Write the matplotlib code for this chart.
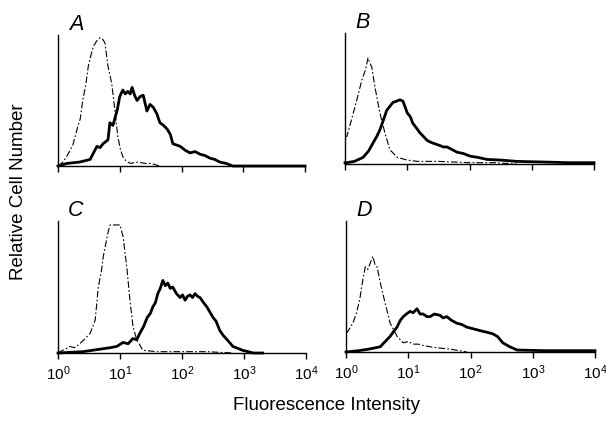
import numpy as np
import matplotlib.pyplot as plt

# Histogram outlines: x in decades (log10 intensity),
# y as fraction of panel height. "neg" = dashed control, "pos" = solid stain.
A_neg_dec = [0.00, 0.08, 0.15, 0.24, 0.32, 0.36, 0.40, 0.45, 0.49, 0.53, 0.57, 0.62,
             0.68, 0.72, 0.76, 0.81, 0.87, 0.92, 0.97, 1.01, 1.05, 1.10, 1.17, 1.30,
             1.40, 1.50, 1.65]
A_neg_y = [0.00, 0.03, 0.08, 0.16, 0.30, 0.36, 0.50, 0.62, 0.76, 0.84, 0.91, 0.95,
           0.98, 0.97, 0.94, 0.76, 0.63, 0.43, 0.22, 0.13, 0.07, 0.04, 0.02, 0.03,
           0.02, 0.02, 0.00]
A_pos_dec = [0.00, 0.15, 0.35, 0.52, 0.63, 0.68, 0.73, 0.81, 0.84, 0.89, 0.96, 1.00,
             1.05, 1.09, 1.13, 1.17, 1.20, 1.24, 1.28, 1.33, 1.38, 1.44, 1.49, 1.54,
             1.60, 1.65, 1.71, 1.77, 1.82, 1.86, 1.92, 1.98, 2.06, 2.14, 2.22, 2.30,
             2.38, 2.46, 2.54, 2.62, 2.72, 2.83, 4.00]
A_pos_y = [0.00, 0.02, 0.03, 0.05, 0.15, 0.14, 0.17, 0.20, 0.33, 0.31, 0.43, 0.53,
           0.58, 0.55, 0.57, 0.55, 0.60, 0.54, 0.50, 0.53, 0.54, 0.42, 0.47, 0.45,
           0.40, 0.33, 0.31, 0.28, 0.24, 0.17, 0.16, 0.15, 0.12, 0.10, 0.11, 0.09,
           0.08, 0.06, 0.05, 0.03, 0.02, 0.00, 0.00]

B_neg_dec = [0.00, 0.03, 0.10, 0.19, 0.27, 0.33, 0.37, 0.40, 0.43, 0.48, 0.56, 0.64,
             0.72, 0.84, 1.00, 1.16, 1.50, 2.00, 2.40, 2.76]
B_neg_y = [0.21, 0.21, 0.33, 0.49, 0.64, 0.72, 0.81, 0.77, 0.74, 0.59, 0.39, 0.24,
           0.11, 0.05, 0.03, 0.02, 0.02, 0.01, 0.01, 0.00]
B_pos_dec = [0.00, 0.03, 0.15, 0.29, 0.38, 0.45, 0.51, 0.56, 0.62, 0.67, 0.72, 0.77,
             0.83, 0.88, 0.93, 0.97, 1.00, 1.05, 1.09, 1.14, 1.20, 1.26, 1.32, 1.36,
             1.41, 1.47, 1.53, 1.58, 1.64, 1.72, 1.80, 1.90, 2.01, 2.14, 2.28, 2.50,
             2.76, 3.20, 3.60, 4.00]
B_pos_y = [0.01, 0.01, 0.02, 0.05, 0.10, 0.16, 0.21, 0.26, 0.34, 0.41, 0.44, 0.47,
           0.48, 0.49, 0.48, 0.43, 0.39, 0.36, 0.31, 0.28, 0.24, 0.21, 0.18, 0.17,
           0.16, 0.15, 0.14, 0.13, 0.13, 0.11, 0.09, 0.08, 0.06, 0.05, 0.035, 0.03,
           0.02, 0.015, 0.01, 0.01]

C_neg_dec = [0.00, 0.03, 0.12, 0.19, 0.27, 0.35, 0.44, 0.52, 0.60, 0.65, 0.70, 0.73,
             0.78, 0.81, 0.84, 0.92, 1.00, 1.05, 1.11, 1.16, 1.21, 1.27, 1.37, 1.60,
             2.00, 2.40, 2.82]
C_neg_y = [0.00, 0.01, 0.03, 0.05, 0.04, 0.07, 0.11, 0.15, 0.25, 0.50, 0.62, 0.73,
           0.85, 0.92, 0.97, 0.97, 0.97, 0.88, 0.65, 0.40, 0.20, 0.10, 0.02, 0.01,
           0.01, 0.01, 0.00]
C_pos_dec = [0.00, 0.40, 0.84, 0.95, 1.05, 1.13, 1.21, 1.27, 1.32, 1.38, 1.44, 1.49,
             1.53, 1.57, 1.61, 1.65, 1.69, 1.73, 1.77, 1.81, 1.85, 1.91, 1.97, 2.01,
             2.05, 2.09, 2.13, 2.17, 2.21, 2.25, 2.29, 2.35, 2.40, 2.45, 2.50, 2.55,
             2.61, 2.67, 2.73, 2.82, 2.98, 3.15, 3.30]
C_pos_y = [0.00, 0.01, 0.04, 0.05, 0.08, 0.07, 0.11, 0.10, 0.15, 0.20, 0.27, 0.30,
           0.35, 0.38, 0.45, 0.49, 0.55, 0.51, 0.53, 0.49, 0.50, 0.45, 0.42, 0.44,
           0.40, 0.43, 0.44, 0.42, 0.45, 0.43, 0.42, 0.38, 0.35, 0.31, 0.27, 0.24,
           0.17, 0.13, 0.10, 0.05, 0.02, 0.00, 0.00]

D_neg_dec = [0.00, 0.02, 0.11, 0.17, 0.22, 0.27, 0.31, 0.35, 0.39, 0.43, 0.47, 0.50,
             0.55, 0.63, 0.71, 0.82, 0.92, 1.00, 1.08, 1.16, 1.24, 1.35, 1.51, 1.70,
             1.94]
D_neg_y = [0.15, 0.15, 0.22, 0.30, 0.40, 0.55, 0.65, 0.63, 0.68, 0.73, 0.66, 0.65,
           0.53, 0.37, 0.22, 0.12, 0.07, 0.08, 0.06, 0.06, 0.05, 0.04, 0.03, 0.02,
           0.00]
D_pos_dec = [0.00, 0.20, 0.34, 0.45, 0.55, 0.63, 0.71, 0.77, 0.82, 0.87, 0.92, 0.97,
             1.03, 1.08, 1.14, 1.19, 1.24, 1.30, 1.35, 1.42, 1.51, 1.56, 1.62, 1.70,
             1.78, 1.86, 1.94, 2.02, 2.10, 2.18, 2.27, 2.35, 2.43, 2.52, 2.63, 2.75,
             3.20, 3.60, 4.00]
D_pos_y = [0.00, 0.01, 0.02, 0.03, 0.04, 0.08, 0.12, 0.16, 0.19, 0.24, 0.27, 0.29,
           0.31, 0.30, 0.33, 0.29, 0.29, 0.27, 0.27, 0.29, 0.28, 0.26, 0.27, 0.24,
           0.22, 0.21, 0.19, 0.18, 0.17, 0.16, 0.15, 0.14, 0.12, 0.07, 0.04, 0.015,
           0.01, 0.01, 0.01]

PANELS = {
    "A": (A_neg_dec, A_neg_y, A_pos_dec, A_pos_y),
    "B": (B_neg_dec, B_neg_y, B_pos_dec, B_pos_y),
    "C": (C_neg_dec, C_neg_y, C_pos_dec, C_pos_y),
    "D": (D_neg_dec, D_neg_y, D_pos_dec, D_pos_y),
}
DECADES = [0, 1, 2, 3, 4]

plt.rcParams.update({
    "font.family": ["Liberation Sans", "DejaVu Sans"],
    "mathtext.default": "regular",
})

fig = plt.figure(figsize=(6.06, 4.21), dpi=100)

# axes rectangles in figure fractions (left, bottom, width, height)
rects = {
    "A": (58 / 606, 1 - 166 / 421, 247 / 606, 131 / 421),
    "B": (345 / 606, 1 - 164 / 421, 249 / 606, 131 / 421),
    "C": (58 / 606, 1 - 353 / 421, 248 / 606, 132 / 421),
    "D": (346 / 606, 1 - 352 / 421, 249 / 606, 131 / 421),
}

for name, (nd, ny, pd_, py) in PANELS.items():
    ax = fig.add_axes(rects[name])
    ax.plot(10 ** np.array(nd), ny, color="black", lw=0.8,
            linestyle=(0, (6, 2, 1.5, 2)), clip_on=False, zorder=2)
    ax.plot(10 ** np.array(pd_), py, color="black", lw=2.0,
            solid_joinstyle="round", clip_on=False, zorder=3)

    ax.set_xscale("log")
    ax.set_xlim(1, 1e4)
    ax.set_ylim(0, 1)
    ax.set_xticks([10.0 ** d for d in DECADES])
    ax.xaxis.set_minor_locator(plt.NullLocator())
    ax.set_yticks([])
    for s in ("top", "right"):
        ax.spines[s].set_visible(False)
    for s in ("left", "bottom"):
        ax.spines[s].set_linewidth(1.0)
    ax.tick_params(axis="x", direction="out", length=4.5, width=1.0, pad=4)
    if name in ("C", "D"):
        ax.set_xticklabels([f"$10^{{{d}}}$" for d in DECADES], fontsize=11)
    else:
        ax.set_xticklabels([])

    ax.text(0.072, 1.08, name, transform=ax.transAxes, fontsize=15.5,
            style="italic", ha="center", va="center")

fig.text(0.538, 0.038, "Fluorescence Intensity", fontsize=13.5,
         ha="center", va="center")
fig.text(0.030, 0.545, "Relative Cell Number", fontsize=13.5,
         rotation=90, ha="center", va="center")

fig.savefig("out.png", dpi=100, facecolor="white")
